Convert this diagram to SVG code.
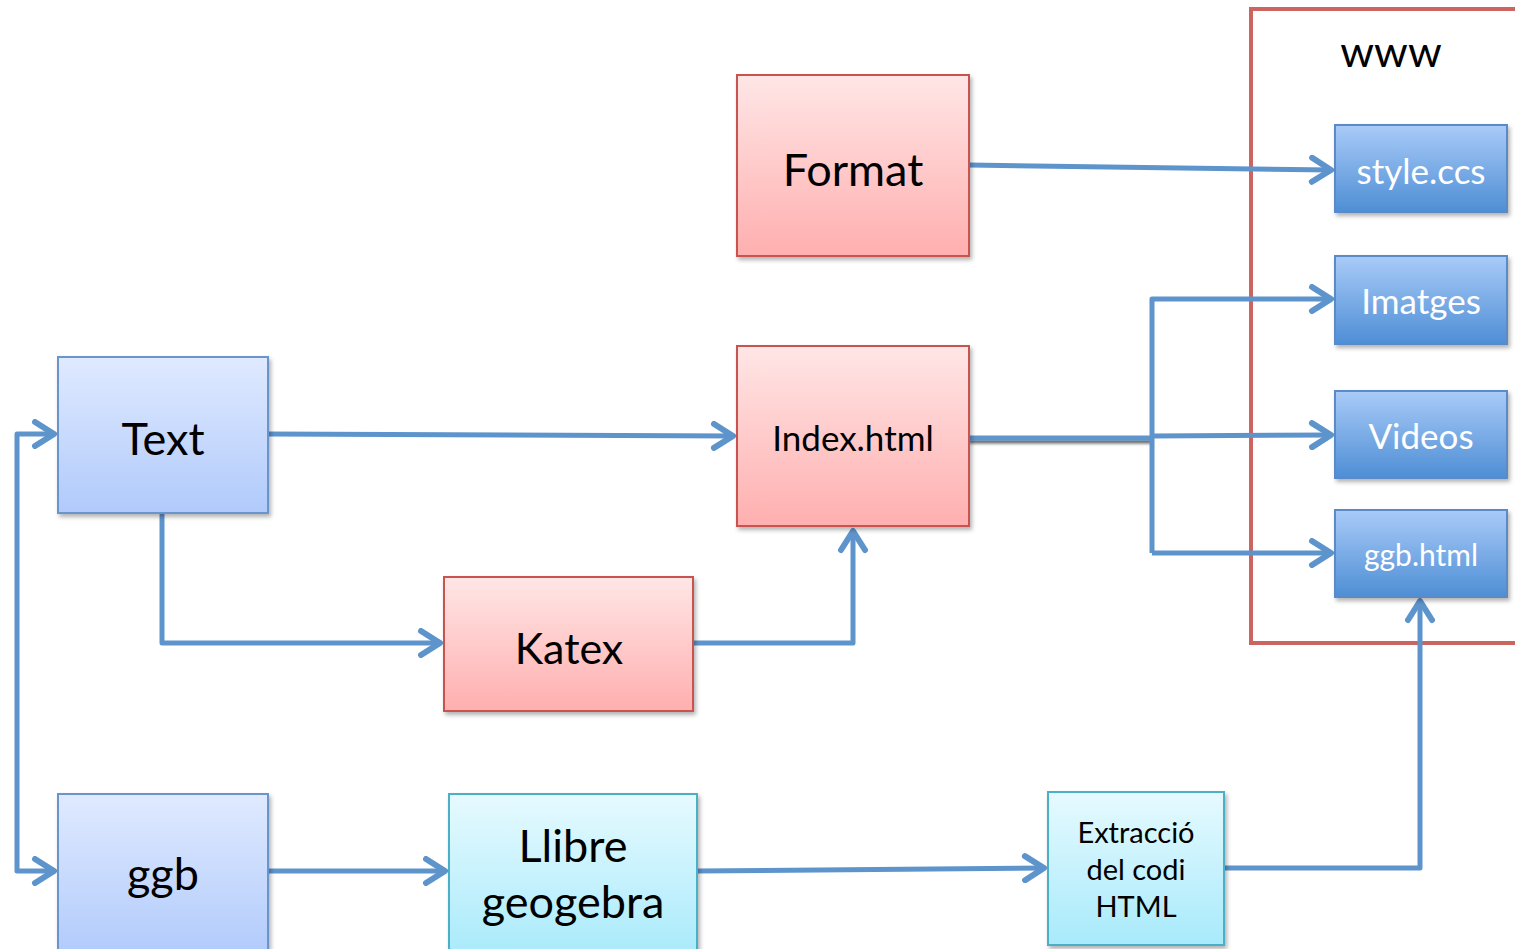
<svg xmlns="http://www.w3.org/2000/svg" width="1515" height="949" viewBox="0 0 1515 949">
<defs>
<linearGradient id="gPink" x1="0" y1="0" x2="0" y2="1"><stop offset="0" stop-color="#FFE6E6"/><stop offset="1" stop-color="#FFAFAF"/></linearGradient>
<linearGradient id="gLight" x1="0" y1="0" x2="0" y2="1"><stop offset="0" stop-color="#E0EAFF"/><stop offset="1" stop-color="#B0CAFB"/></linearGradient>
<linearGradient id="gCyan" x1="0" y1="0" x2="0" y2="1"><stop offset="0" stop-color="#E6FAFF"/><stop offset="1" stop-color="#A8EAFB"/></linearGradient>
<linearGradient id="gBlue" x1="0" y1="0" x2="0" y2="1"><stop offset="0" stop-color="#A9CBF8"/><stop offset="1" stop-color="#4E8ED5"/></linearGradient>
<filter id="sh" x="-10%" y="-10%" width="130%" height="130%"><feDropShadow dx="2" dy="3" stdDeviation="2" flood-color="#000" flood-opacity="0.3"/></filter>
<filter id="sh2" filterUnits="userSpaceOnUse" x="950" y="420" width="220" height="40"><feDropShadow dx="0" dy="3" stdDeviation="1.5" flood-color="#000" flood-opacity="0.6"/></filter>
<marker id="arr" markerUnits="userSpaceOnUse" markerWidth="30" markerHeight="30" viewBox="-24 -15 30 30" refX="0" refY="0" orient="auto">
<path d="M-19,-12 L0,0 L-19,12" fill="none" stroke="#5E94CC" stroke-width="6" stroke-linecap="round" stroke-linejoin="round"/>
</marker>
<style>
.n{stroke-width:2}
.pink{fill:url(#gPink);stroke:#C9534F}
.light{fill:url(#gLight);stroke:#6A95CC}
.cyan{fill:url(#gCyan);stroke:#4BAFC8}
.blue{fill:url(#gBlue);stroke:#5A8BC6}
text{font-family:Lato,"Open Sans","Liberation Sans",sans-serif;text-anchor:middle}
.dk{fill:#000}
.wt{fill:#fff}
.c{fill:none;stroke:#5E94CC;stroke-width:5;stroke-linejoin:round}
</style>
</defs>
<g id="www">
<rect x="1251" y="9" width="280" height="634" fill="none" stroke="#CC6560" stroke-width="4"/>
<text x="1391" y="67" font-size="43" class="dk">www</text>
</g>
<g id="connectors">
<path class="c" d="M969,165 L1331,170" marker-end="url(#arr)"/>
<path class="c" d="M268,434 L733,436" marker-end="url(#arr)"/>
<path class="c" d="M969,438 L1152,438" filter="url(#sh2)"/>
<path class="c" d="M1152,436 L1331,435" marker-end="url(#arr)"/>
<path class="c" d="M1152,553 L1152,299 L1331,299" marker-end="url(#arr)"/>
<path class="c" d="M1152,553 L1331,553" marker-end="url(#arr)"/>
<path class="c" d="M162,513 L162,643 L440,643" marker-end="url(#arr)"/>
<path class="c" d="M693,643 L853,643 L853,531" marker-end="url(#arr)"/>
<path class="c" d="M17,650 L17,434 L54,434" marker-end="url(#arr)"/>
<path class="c" d="M17,650 L17,871 L54,871" marker-end="url(#arr)"/>
<path class="c" d="M268,871 L445,871" marker-end="url(#arr)"/>
<path class="c" d="M697,871 L1044,868" marker-end="url(#arr)"/>
<path class="c" d="M1224,868 L1420,868 L1420,601" marker-end="url(#arr)"/>
</g>
<g id="format"><rect class="n pink" x="737" y="75" width="232" height="181" filter="url(#sh)"/><text x="853" y="186" font-size="45" class="dk">Format</text></g>
<g id="index"><rect class="n pink" x="737" y="346" width="232" height="180" filter="url(#sh)"/><text x="853" y="451" font-size="35" class="dk">Index.html</text></g>
<g id="katex"><rect class="n pink" x="444" y="577" width="249" height="134" filter="url(#sh)"/><text x="569" y="664" font-size="43" class="dk">Katex</text></g>
<g id="text"><rect class="n light" x="58" y="357" width="210" height="156" filter="url(#sh)"/><text x="163" y="455" font-size="45" class="dk">Text</text></g>
<g id="ggb"><rect class="n light" x="58" y="794" width="210" height="165" filter="url(#sh)"/><text x="163" y="890" font-size="45" class="dk">ggb</text></g>
<g id="llibre"><rect class="n cyan" x="449" y="794" width="248" height="165" filter="url(#sh)"/><text x="573" y="862" font-size="45" class="dk">Llibre</text><text x="573" y="918" font-size="45" class="dk">geogebra</text></g>
<g id="extraccio"><rect class="n cyan" x="1048" y="792" width="176" height="153" filter="url(#sh)"/><text x="1136" y="843" font-size="29" class="dk">Extracció</text><text x="1136" y="880" font-size="29" class="dk">del codi</text><text x="1136" y="917" font-size="29" class="dk">HTML</text></g>
<g id="style"><rect class="n blue" x="1335" y="125" width="172" height="87" filter="url(#sh)"/><text x="1421" y="184" font-size="35" class="wt">style.ccs</text></g>
<g id="imatges"><rect class="n blue" x="1335" y="256" width="172" height="88" filter="url(#sh)"/><text x="1421" y="314" font-size="35" class="wt">Imatges</text></g>
<g id="videos"><rect class="n blue" x="1335" y="391" width="172" height="87" filter="url(#sh)"/><text x="1421" y="449" font-size="35" class="wt">Videos</text></g>
<g id="ggbhtml"><rect class="n blue" x="1335" y="510" width="172" height="87" filter="url(#sh)"/><text x="1421" y="566" font-size="30" class="wt">ggb.html</text></g>
</svg>
